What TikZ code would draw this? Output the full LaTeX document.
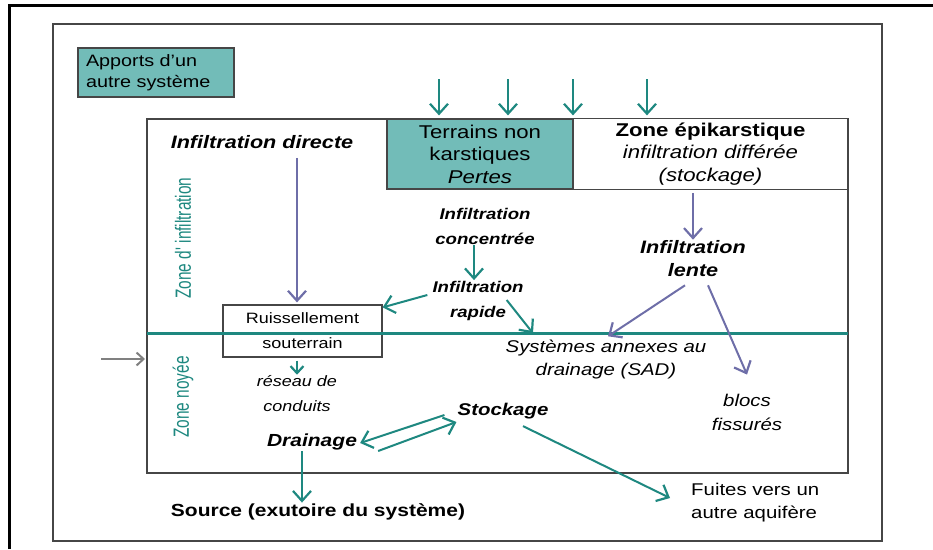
\documentclass[tikz,border=0pt]{standalone}
\usepackage{fontspec}
\setmainfont{Liberation Sans}[FakeStretch=1.2]
\newfontfamily\narrowfont{Liberation Sans}[FakeStretch=0.7]
\usetikzlibrary{arrows.meta}
\definecolor{tealline}{RGB}{30,136,128}
\definecolor{tealfill}{RGB}{114,188,184}
\definecolor{slate}{RGB}{110,110,168}
\definecolor{framegray}{RGB}{70,70,70}

\begin{document}
\begin{tikzpicture}[x=1pt,y=-1pt,
	tealarrow/.style={draw=tealline,line width=2pt,-{Straight Barb[length=10pt,width=18pt,line width=2.2pt]}},
	slatearrow/.style={draw=slate,line width=2pt,-{Straight Barb[length=10pt,width=18pt,line width=2.2pt]}},
	tealbox/.style={draw=framegray,line width=1.2pt,fill=tealfill,inner sep=4pt,align=center},
	plainbox/.style={draw=framegray,line width=1.2pt,fill=white,inner sep=4pt,align=center},
	lbl/.style={align=center,inner sep=1pt},
	zonelbl/.style={text=tealline,font=\narrowfont\fontsize{22}{24}\selectfont,rotate=90}]
				\useasboundingbox (0,0) rectangle (933,549);
				% frames
				\draw[line width=3pt] (9,549) -- (9,5) -- (933,5);
				\draw[framegray,line width=1.5pt] (53,24) rectangle (882,541);
				\draw[framegray,line width=1.5pt] (147,119) rectangle (848,473);
				% boxes
				\node[tealbox,minimum width=156pt,minimum height=49pt,text width=140pt,align=left,font=\fontsize{16.5}{21}\selectfont] (apports) at (156,72.5) {Apports d'un\\autre système};
				\node[tealbox,minimum width=186pt,minimum height=70pt,font=\fontsize{18.5}{22.5}\selectfont] (terrains) at (480,154) {Terrains non\\karstiques\\\textit{Pertes}};
				\node[plainbox,minimum width=275pt,minimum height=70pt,font=\fontsize{18.5}{22.5}\selectfont] (epikarst) at (710.5,154) {\textbf{Zone épikarstique}\\\textit{infiltration différée}\\\textit{(stockage)}};
				\node[plainbox,minimum width=159pt,minimum height=52pt,font=\fontsize{15}{25}\selectfont] (ruiss) at (302.5,331) {Ruissellement\\souterrain};
				\draw[tealline,line width=3pt] (147,333) -- (848,333);
				% zones
				\node[zonelbl] (zinf) at (183,238) {Zone d' infiltration};
				\node[zonelbl] (znoy) at (183,397) {Zone noyée};
				% labels
				\node[lbl,font=\bfseries\itshape\fontsize{18}{22}\selectfont] (directe) at (262,142) {Infiltration directe};
				\node[lbl,font=\bfseries\itshape\fontsize{15.5}{25}\selectfont] (concentree) at (485,226) {Infiltration\\concentrée};
				\node[lbl,font=\bfseries\itshape\fontsize{15.5}{25}\selectfont] (rapide) at (478,301) {Infiltration\\rapide};
				\node[lbl,font=\bfseries\itshape\fontsize{18}{23}\selectfont] (lente) at (693,259) {Infiltration\\lente};
				\node[lbl,font=\itshape\fontsize{17}{23}\selectfont] (sad) at (606,359) {Systèmes annexes au\\drainage (SAD)};
				\node[lbl,font=\itshape\fontsize{17}{24}\selectfont] (blocs) at (747,412) {blocs\\fissurés};
				\node[lbl,font=\itshape\fontsize{15}{25}\selectfont] (reseau) at (297,394) {réseau de\\conduits};
				\node[lbl,font=\bfseries\itshape\fontsize{17.5}{21}\selectfont] (drainage) at (312,442) {Drainage};
				\node[lbl,font=\bfseries\itshape\fontsize{17}{21}\selectfont] (stockage) at (503,411) {Stockage};
				\node[lbl,font=\bfseries\fontsize{17.5}{21}\selectfont] (source) at (318,512) {Source (exutoire du système)};
				\node[lbl,align=left,anchor=west,font=\fontsize{17}{23}\selectfont] (fuites) at (690,503) {Fuites vers un\\autre aquifère};
				% inputs
				\foreach \x [count=\i] in {439,508,573,647} {
					\coordinate (rain\i) at (\x,79);
					\draw[tealarrow,shorten >=3pt] (rain\i) -- (rain\i |- terrains.north);
				}
				\coordinate (ext) at (101,359);
				\coordinate (karstw) at (147,359);
				\draw[draw=gray,line width=2pt,-{Straight Barb[length=7pt,width=13pt,line width=2pt]},shorten >=2pt] (ext) -- (karstw);
				% flows
				\coordinate (ruisin) at ([xshift=-5.5pt]ruiss.north);
				\draw[slatearrow,shorten <=8pt,shorten >=2pt] (directe.south -| ruisin) -- (ruisin);
				\draw[tealarrow,-{Straight Barb[length=7pt,width=13pt,line width=2.2pt]},shorten <=3pt] (reseau.north |- ruiss.south) -- (reseau.north);
				\draw[tealarrow] ([xshift=-10pt]drainage.south) -- ([xshift=-10pt]drainage.south |- source.north);
				\draw[tealarrow] ([shift={(-12,4)}]stockage.west) -- ([shift={(2,1)}]drainage.east);
				\draw[tealarrow] ([shift={(20,9)}]drainage.east) -- ([shift={(0,11)}]stockage.west);
				\draw[tealarrow] ([shift={(20,6)}]stockage.south) -- ([shift={(-20,-5)}]fuites.west);
				\draw[tealarrow] ([xshift=-11pt]concentree.south) -- ([xshift=-11pt]concentree.south |- rapide.north);
				\draw[tealarrow] ([shift={(-4,-6)}]rapide.west) -- ([shift={(0,3)}]ruiss.north east);
				\draw[tealarrow] ([shift={(-18,-1)}]rapide.east) -- ([shift={(-73,-5)}]sad.north);
				\draw[slatearrow,shorten <=3pt] (lente.north |- epikarst.south) -- (lente.north);
				\draw[slatearrow] ([shift={(-8,7)}]lente.south) -- ([shift={(2,-2)}]sad.north);
				\draw[slatearrow] ([shift={(15,7)}]lente.south) -- ([shift={(0,-18)}]blocs.north);
			\end{tikzpicture}
\end{document}
